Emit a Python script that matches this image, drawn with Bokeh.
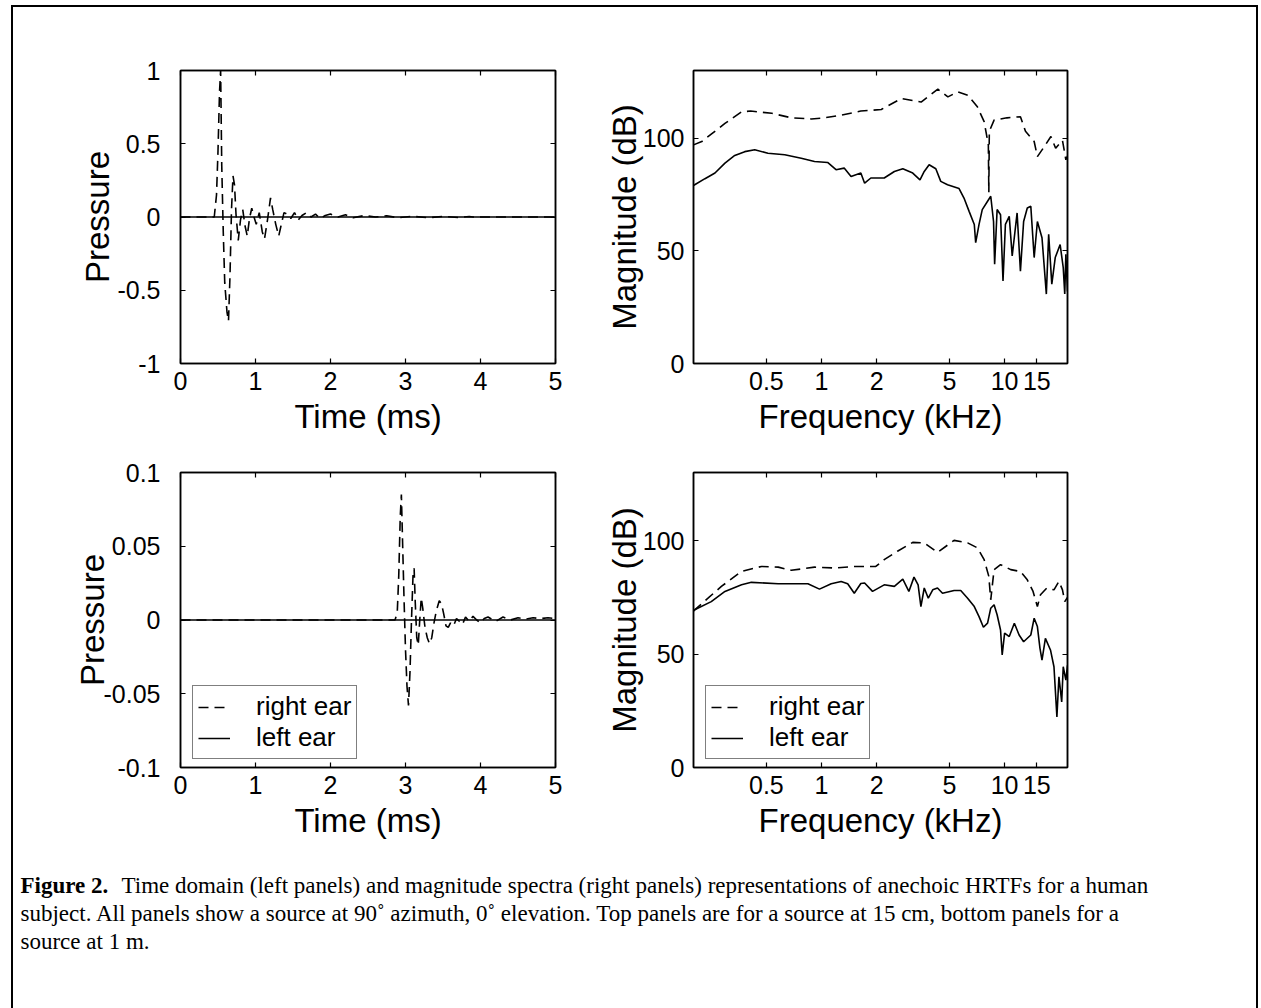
from bokeh.plotting import figure
from bokeh.layouts import column, row
from bokeh.models import Range1d, FixedTicker, LinearAxis, LogAxis, Legend, LegendItem
from bokeh.core.properties import value
from bokeh.embed import file_html
from bokeh.resources import INLINE

# ---------------- data ----------------
# Top-left: impulse responses, source at 15 cm (time in ms)
tl_right_t = [0, 0.45, 0.48, 0.50, 0.52, 0.535, 0.55, 0.57, 0.59, 0.62, 0.64, 0.66, 0.68, 0.70,
              0.72, 0.74, 0.77, 0.80, 0.83, 0.86, 0.89, 0.92, 0.95, 0.98, 1.01, 1.05, 1.09, 1.12,
              1.16, 1.20, 1.23, 1.27, 1.31, 1.34, 1.38, 1.42, 1.47, 1.52, 1.57, 1.62, 1.68, 1.74,
              1.80, 1.86, 1.93, 2.0, 2.1, 2.2, 2.3, 2.45, 2.6, 2.75, 2.9, 3.1, 3.3, 3.5, 3.7,
              3.85, 3.9, 5.0]
tl_right_p = [0, 0.0, 0.15, 0.45, 0.85, 1.0, 0.35, -0.1, -0.45, -0.65, -0.71, -0.4, 0.05, 0.28,
              0.22, 0.02, -0.16, -0.02, 0.05, -0.06, -0.13, -0.01, 0.06, 0.0, -0.05, 0.03, -0.1, -0.15,
              -0.02, 0.13, 0.05, -0.05, -0.13, -0.06, 0.03, 0.02, -0.01, 0.03, -0.02, 0.01, 0.03, 0.0,
              0.02, -0.01, 0.01, 0.02, 0.0, 0.015, -0.005, 0.01, 0.0, 0.008, -0.005, 0.005, -0.005, 0.004, -0.003,
              0.003, 0.0, 0.0]
tl_left_t = [0, 1, 2, 3, 4, 5]
tl_left_p = [0, 0, 0, 0, 0, 0]

# Bottom-left: impulse responses, source at 1 m
bl_right_t = [0, 2.86, 2.89, 2.91, 2.93, 2.945, 2.96, 2.98, 3.0, 3.02, 3.04, 3.06, 3.08, 3.10,
              3.115, 3.13, 3.15, 3.17, 3.19, 3.21, 3.23, 3.26, 3.29, 3.32, 3.35, 3.38, 3.41, 3.45,
              3.48, 3.51, 3.54, 3.57, 3.60, 3.64, 3.68, 3.72, 3.76, 3.80, 3.85, 3.9, 3.95, 4.0,
              4.05, 4.1, 4.2, 4.3, 4.4, 4.5, 4.6, 4.7, 4.8, 4.9, 5.0]
bl_right_p = [0, 0, 0.005, 0.03, 0.07, 0.085, 0.055, 0.015, -0.02, -0.045, -0.058, -0.035, 0.0, 0.03,
              0.035, 0.012, -0.012, -0.017, 0.0, 0.015, 0.008, -0.005, -0.012, -0.016, -0.012, -0.002, 0.006, 0.013,
              0.011, 0.004, -0.004, -0.005, -0.002, -0.004, 0.001, -0.001, -0.003, 0.002, -0.001, 0.0025, 0.0, -0.002,
              0.001, 0.002, -0.001, 0.002, 0.0, 0.0015, 0.0005, 0.0015, 0.001, 0.0015, 0.001]
bl_left_t = [0, 1, 2, 3, 4, 5]
bl_left_p = [0, 0, 0, 0, 0, 0]

# Top-right: magnitude spectra, source at 15 cm (frequency in kHz, magnitude in dB)
tr_right_f = [0.2, 0.222, 0.252, 0.297, 0.367, 0.41, 0.535, 0.686, 0.88, 1.04, 1.28, 1.64, 2.12,
              2.73, 3.5, 4.32, 4.9, 5.55, 6.3, 7.1, 7.73, 8.15, 8.2, 8.25, 8.76, 10.3, 12.2, 13.0,
              14.5, 15.1, 16.4, 17.9, 19.0, 20.7, 21.6, 22.05]
tr_right_db = [97, 98.5, 102, 106.5, 111.7, 112, 111, 109, 108.5, 109, 110.2, 112, 112.7,
               117.6, 116, 121.7, 118.3, 120.5, 119, 113.9, 107.3, 97, 76, 103, 108, 109, 109.5, 103,
               98.5, 91.8, 96, 100.7, 95.5, 99, 90.4, 92]
tr_left_f = [0.2, 0.203, 0.231, 0.262, 0.297, 0.336, 0.381, 0.432, 0.51, 0.63, 0.775, 0.916, 1.08,
             1.2, 1.33, 1.45, 1.64, 1.72, 1.86, 2.2, 2.5, 2.78, 3.15, 3.45, 3.64, 3.87, 4.21,
             4.48, 4.88, 5.64, 6.0, 6.4, 6.83, 6.95, 7.25, 7.55, 8.07, 8.4, 8.7, 8.82, 9.1,
             9.5, 9.8, 10.1, 10.6, 11.0, 11.7, 12.2, 12.7, 13.3, 13.9, 14.5, 15.1, 16.0, 16.9,
             17.4, 18.1, 18.9, 20.1, 20.9, 21.3, 21.6, 22.05]
tr_left_db = [79, 79.3, 82, 84.5, 88.9, 92.3, 94, 94.8, 93.3, 92.6, 91.1, 89.6, 89.2,
              86, 86.7, 83, 84.5, 80, 82.3, 82.3, 85.2, 86.4, 84.5, 81.5, 85.2, 88.2, 86.4,
              80.8, 79.3, 77.6, 73.4, 67.5, 61.7, 53.6, 61.7, 68.3, 72, 74.2, 63, 44, 68.3,
              66, 36.6, 61.7, 65.3, 47.7, 66.8, 41, 63, 69, 69.8, 47, 63, 55.8, 30.8,
              57.3, 35.2, 47, 52.8, 42.5, 30.9, 48.5, 32]

# Bottom-right: magnitude spectra, source at 1 m
br_right_f = [0.2, 0.203, 0.24, 0.284, 0.366, 0.47, 0.58, 0.684, 0.916, 1.18, 1.51, 1.98, 2.2,
              2.6, 3.15, 3.64, 4.3, 5.3, 6.28, 7.1, 7.73, 8.2, 8.4, 8.76, 9.5, 10.8, 12.2,
              13.3, 14.3, 15.1, 15.7, 17.0, 18.6, 19.8, 20.7, 21.3, 22.05]
br_right_db = [69, 69.5, 74.6, 79.8, 86.4, 88.6, 88.3, 86.9, 88.3, 87.9, 88.6, 88.6, 91.6,
               95.3, 99.2, 99, 94.8, 100.1, 99, 96.8, 91.6, 84.2, 73.9, 87.2, 89.4, 87.2, 86.4,
               82.7, 77.6, 70.9, 76.1, 79.1, 78.3, 82, 78.3, 73.1, 75]
br_left_f = [0.2, 0.203, 0.25, 0.297, 0.366, 0.414, 0.58, 0.843, 0.975, 1.13, 1.28, 1.39, 1.51,
             1.64, 1.72, 1.9, 2.2, 2.5, 2.78, 3.0, 3.2, 3.37, 3.49, 3.64, 3.83, 4.05, 4.3,
             4.58, 5.3, 5.76, 6.28, 6.83, 7.25, 7.66, 8.07, 8.4, 8.76, 9.1, 9.5, 9.7, 10.0,
             10.6, 11.3, 12.0, 12.7, 13.9, 14.5, 15.1, 15.6, 16.0, 16.7, 17.8, 18.6, 19.3, 19.8,
             20.5, 20.9, 21.6, 22.05]
br_left_db = [69, 69.5, 73.1, 77.6, 80.5, 81.6, 81, 81, 78.6, 81, 82, 81, 76.8,
              81.1, 81.3, 77.6, 80.5, 79.8, 83, 77.6, 83.9, 80.5, 70.9, 79.1, 74.6, 78.3, 79.1,
              76.8, 78, 78, 74.6, 70.9, 66.5, 61.8, 63.6, 70.2, 71.7, 67.3, 60.6, 49.6, 59.2,
              57.7, 63.6, 58.4, 55.4, 58.4, 65.8, 62.1, 52.5, 47.3, 56.9, 51.8, 44.4, 22.3, 40,
              28.9, 44.4, 38.5, 45]

time_ticks = [0, 1, 2, 3, 4, 5]
time_labels = ["0", "1", "2", "3", "4", "5"]
p_top_ticks = [-1, -0.5, 0, 0.5, 1]
p_top_labels = ["-1", "-0.5", "0", "0.5", "1"]
p_bot_ticks = [-0.1, -0.05, 0, 0.05, 0.1]
p_bot_labels = ["-0.1", "-0.05", "0", "0.05", "0.1"]
freq_ticks = [0.5, 1, 2, 5, 10, 15]
freq_labels = ["0.5", "1", "2", "5", "10", "15"]
db_ticks = [0, 50, 100]
db_labels = ["0", "50", "100"]

legend_labels = ["right ear", "left ear"]

caption_bold = "Figure 2."
caption_lines = [
    "Time domain (left panels) and magnitude spectra (right panels) representations of anechoic HRTFs for a human",
    "subject. All panels show a source at 90\u02da azimuth, 0\u02da elevation. Top panels are for a source at 15 cm, bottom panels for a",
    "source at 1 m.",
]

# ---------------- styling ----------------
SANS = "Liberation Sans"
SERIF = "Liberation Serif"
TICK_FS = "25px"
LABEL_FS = "33px"
CAP_FS = "23px"
DASH = "10 6"
LW = 1.6


def panel(width, height, mb, x_range, y_range, log_x, xticks, xlabels, yticks, ylabels,
          xlabel, ylabel, ytick_standoff, ylabel_standoff):
    p = figure(width=width, height=height, output_backend="svg", toolbar_location=None,
               x_range=x_range, y_range=y_range,
               x_axis_type=("log" if log_x else "linear"),
               min_border_left=mb[0], min_border_right=mb[1], min_border_top=mb[2],
               min_border_bottom=mb[3])
    p.grid.visible = False
    p.outline_line_color = "black"
    p.outline_line_width = 1.5
    p.background_fill_color = "white"
    p.border_fill_color = "white"

    xa = p.xaxis[0]
    xa.ticker = FixedTicker(ticks=xticks)
    xa.major_label_overrides = {t: l for t, l in zip(xticks, xlabels)}
    ya = p.yaxis[0]
    ya.ticker = FixedTicker(ticks=yticks)
    ya.major_label_overrides = {t: l for t, l in zip(yticks, ylabels)}
    xa.axis_label = xlabel
    ya.axis_label = ylabel
    for ax in (xa, ya):
        ax.major_tick_in = 5
        ax.major_tick_out = 0
        ax.minor_tick_in = 0
        ax.minor_tick_out = 0
        ax.axis_line_color = "black"
        ax.axis_line_width = 1.5
        ax.major_tick_line_color = "black"
        ax.major_tick_line_width = 1.2
        ax.major_label_text_font = SANS
        ax.major_label_text_font_size = TICK_FS
        ax.major_label_text_color = "black"
        ax.axis_label_text_font = SANS
        ax.axis_label_text_font_size = LABEL_FS
        ax.axis_label_text_font_style = "normal"
        ax.axis_label_text_color = "black"
    xa.major_label_standoff = 8
    xa.axis_label_standoff = 5
    ya.major_label_standoff = ytick_standoff
    ya.axis_label_standoff = ylabel_standoff

    # mirrored ticks on top and right
    top = LogAxis() if log_x else LinearAxis()
    top.ticker = FixedTicker(ticks=xticks)
    top.major_label_overrides = {t: "" for t in xticks}
    right = LinearAxis()
    right.ticker = FixedTicker(ticks=yticks)
    right.major_label_overrides = {t: "" for t in yticks}
    for ax in (top, right):
        ax.major_tick_in = 5
        ax.major_tick_out = 0
        ax.minor_tick_in = 0
        ax.minor_tick_out = 0
        ax.axis_line_color = "black"
        ax.axis_line_width = 1.5
        ax.major_tick_line_color = "black"
        ax.major_tick_line_width = 1.2
        ax.major_label_text_font_size = "1px"
        ax.major_label_standoff = 0
    p.add_layout(top, "above")
    p.add_layout(right, "right")
    return p


def add_legend(p, r_dash, r_solid):
    leg = Legend(items=[LegendItem(label=legend_labels[0], renderers=[r_dash]),
                        LegendItem(label=legend_labels[1], renderers=[r_solid])],
                 location=(12, 8))
    leg.label_text_font = SANS
    leg.label_text_font_size = "26px"
    leg.label_text_color = "black"
    leg.label_height = 24
    leg.glyph_height = 24
    leg.glyph_width = 32
    leg.label_standoff = 26
    leg.spacing = 0
    leg.padding = 5
    leg.margin = 0
    leg.border_line_color = "black"
    leg.border_line_width = 1.5
    leg.background_fill_color = "white"
    leg.background_fill_alpha = 1.0
    p.add_layout(leg)


# page geometry: content starts at (13, 7); frames at x 180-555 / 692-1067
W_L, W_R = 589, 654
H_T, H_B = 441, 404

# Top-left
f1 = panel(W_L, H_T, (167, 47, 63, 85), Range1d(0, 5), Range1d(-1, 1), False,
           time_ticks, time_labels, p_top_ticks, p_top_labels, "Time (ms)", "Pressure", 20, -2)
f1.line(tl_right_t, tl_right_p, line_color="black", line_width=LW, line_dash=DASH)
f1.line(tl_left_t, tl_left_p, line_color="black", line_width=LW)

# Top-right
f2 = panel(W_R, H_T, (90, 189, 63, 85), Range1d(0.2, 22.05), Range1d(0, 130), True,
           freq_ticks, freq_labels, db_ticks, db_labels, "Frequency (kHz)", "Magnitude (dB)", 9, -3)
f2.line(tr_right_f, tr_right_db, line_color="black", line_width=LW, line_dash=DASH)
f2.line(tr_left_f, tr_left_db, line_color="black", line_width=LW)

# Bottom-left
f3 = panel(W_L, H_B, (167, 47, 24, 85), Range1d(0, 5), Range1d(-0.1, 0.1), False,
           time_ticks, time_labels, p_bot_ticks, p_bot_labels, "Time (ms)", "Pressure", 20, -10)
r3d = f3.line(bl_right_t, bl_right_p, line_color="black", line_width=LW, line_dash=DASH)
r3s = f3.line(bl_left_t, bl_left_p, line_color="black", line_width=LW)
add_legend(f3, r3d, r3s)

# Bottom-right
f4 = panel(W_R, H_B, (90, 189, 24, 85), Range1d(0.2, 22.05), Range1d(0, 130), True,
           freq_ticks, freq_labels, db_ticks, db_labels, "Frequency (kHz)", "Magnitude (dB)", 9, -3)
r4d = f4.line(br_right_f, br_right_db, line_color="black", line_width=LW, line_dash=DASH)
r4s = f4.line(br_left_f, br_left_db, line_color="black", line_width=LW)
add_legend(f4, r4d, r4s)

# Caption
CAP_H = 156
cap = figure(width=W_L + W_R, height=CAP_H, output_backend="svg", toolbar_location=None,
             x_range=Range1d(0, W_L + W_R), y_range=Range1d(CAP_H, 0),
             x_axis_type=None, y_axis_type=None, min_border=0)
cap.grid.visible = False
cap.outline_line_color = None
cap.border_fill_color = "white"
cap.text(x=[7], y=[33], text=[caption_bold], text_font=value(SERIF), text_font_style="bold",
         text_font_size=CAP_FS, text_baseline="middle", text_color="black")
cap.text(x=[108, 7, 7], y=[33, 61, 89], text=caption_lines, text_font=value(SERIF),
         text_font_size=CAP_FS, text_baseline="middle", text_color="black")

layout = column(row(f1, f2), row(f3, f4), cap,
                margin=(5, 0, 0, 11),
                styles={"border-top": "2px solid black", "border-left": "2px solid black",
                        "border-right": "2px solid black"})

open("out.html", "w").write(file_html(layout, INLINE))
